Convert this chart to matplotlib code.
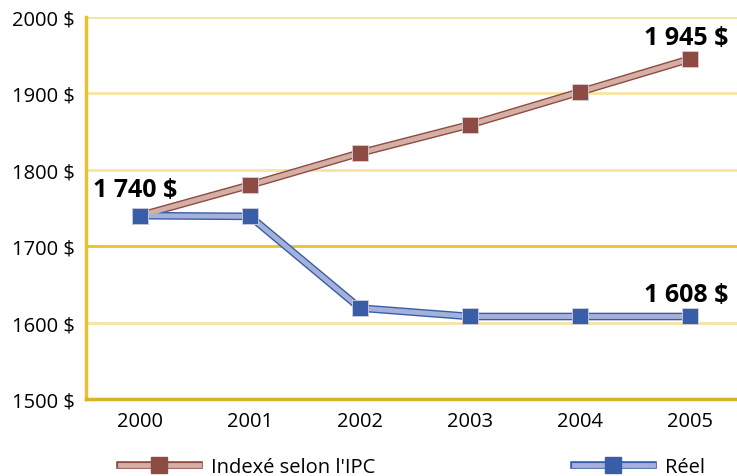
import matplotlib.pyplot as plt
from matplotlib.lines import Line2D

plt.rcParams['font.family'] = ['Open Sans', 'DejaVu Sans']

years = [2000, 2001, 2002, 2003, 2004, 2005]
indexe_ipc = [1740, 1780, 1822, 1859, 1902, 1945]
reel = [1740, 1739, 1619, 1608, 1608, 1608]
y_ticks = [1500, 1600, 1700, 1800, 1900, 2000]
y_labels = ['1500 $', '1600 $', '1700 $', '1800 $', '1900 $', '2000 $']

red_dark, red_light = '#8E4B43', '#D4AFA4'
blue_dark, blue_light = '#3A5DA8', '#A4B2DA'
gold, gold_light = '#E8C232', '#F6E4A2'

fig = plt.figure(figsize=(7.37, 4.77), dpi=100)
ax = fig.add_axes([86 / 737, 1 - 400 / 477, 651 / 737, 382 / 477])

for t in y_ticks[1:]:
    ax.axhline(t, color=gold if t == 1700 else gold_light, lw=2, zorder=1)

def double_line(x, y, dark, light):
    ax.plot(x, y, color=dark, lw=5.5, solid_capstyle='butt', zorder=3)
    ax.plot(x, y, color=light, lw=3.5, solid_capstyle='butt', zorder=4)
    ax.plot(x, y, ls='none', marker='s', ms=12, mfc=dark, mec='#d0d0dc', mew=0.6, zorder=5)

double_line(years, indexe_ipc, red_dark, red_light)
double_line(years, reel, blue_dark, blue_light)

ax.set_xlim(2000 - 54 / 110, 2005 + 47 / 110)
ax.set_ylim(1500, 2000)
ax.set_yticks(y_ticks)
ax.set_yticklabels(y_labels)
ax.set_xticks(years)
ax.tick_params(length=0, labelsize=14.5, pad=8)
ax.tick_params(axis='x', pad=9)

for s in ['top', 'right']:
    ax.spines[s].set_visible(False)
ax.spines['left'].set_color(gold)
ax.spines['left'].set_linewidth(2.5)
ax.spines['bottom'].set_color('#D9B22A')
ax.spines['bottom'].set_linewidth(2.5)

label_kw = dict(textcoords='offset points', fontsize=18, fontweight='bold', va='baseline')
ax.annotate('1 740 $', (years[0], indexe_ipc[0]), xytext=(-34, 14), ha='left', **label_kw)
ax.annotate('1 945 $', (years[-1], indexe_ipc[-1]), xytext=(28, 11), ha='right', **label_kw)
ax.annotate('1 608 $', (years[-1], reel[-1]), xytext=(28, 11), ha='right', **label_kw)

def legend_handle(dark, light):
    return (Line2D([], [], color=dark, lw=5.5),
            Line2D([], [], color=light, lw=3.5, marker='s', ms=12, mfc=dark, mec=dark))

fig.legend([legend_handle(red_dark, red_light)], ["Indexé selon l'IPC"],
           loc='center left', bbox_to_anchor=(102 / 737, 1 - 468 / 477),
           frameon=False, fontsize=14.5, handlelength=3.9, handletextpad=0.6)
fig.legend([legend_handle(blue_dark, blue_light)], ['Réel'],
           loc='center left', bbox_to_anchor=(556 / 737, 1 - 468 / 477),
           frameon=False, fontsize=14.5, handlelength=3.9, handletextpad=0.6)

fig.savefig('out.png', dpi=100)
